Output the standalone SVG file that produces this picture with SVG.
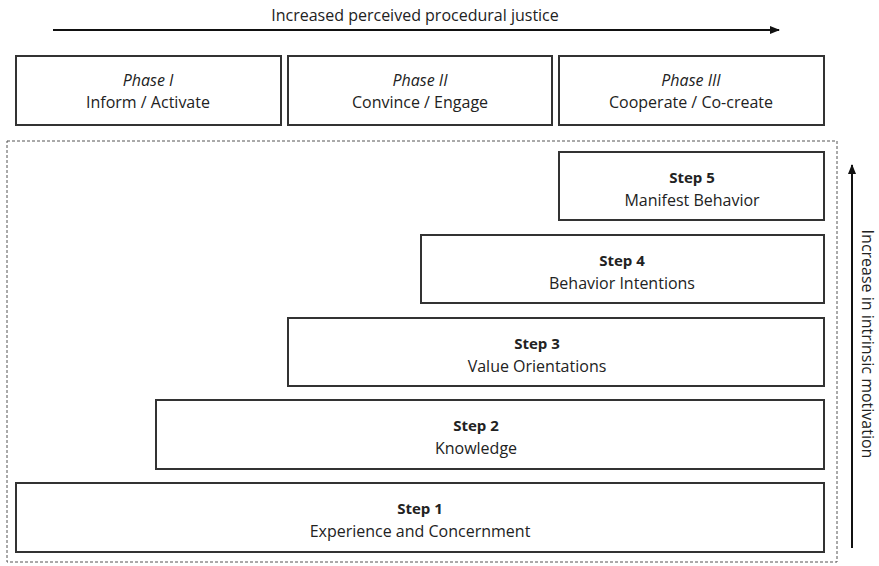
<svg xmlns="http://www.w3.org/2000/svg" width="879" height="566" viewBox="0 0 879 566">
<defs>
<marker id="ah" markerWidth="10" markerHeight="8" refX="9" refY="4" orient="auto" markerUnits="userSpaceOnUse">
<path d="M0,0 L10,4 L0,8 Z" fill="#111"/>
</marker>
<style>
.box{fill:#fff;stroke:#333;stroke-width:2}
.t{font-family:"Open Sans","Liberation Sans",sans-serif;font-size:16px;fill:#222;text-anchor:middle}
.i{font-style:italic}
.b{font-weight:bold;font-size:15px}
.ln{stroke:#111;stroke-width:2;fill:none}
</style>
</defs>
<rect width="879" height="566" fill="#fff"/>
<g id="connectors">
<line class="ln" x1="53" y1="30" x2="779" y2="30" marker-end="url(#ah)"/>
<line class="ln" x1="852" y1="548" x2="852" y2="165" marker-end="url(#ah)"/>
<rect x="7" y="141" width="830" height="421" fill="none" stroke="#555" stroke-width="1" stroke-dasharray="3,2"/>
</g>
<text class="t" x="415" y="21">Increased perceived procedural justice</text>
<text class="t" transform="translate(862,344) rotate(90)">Increase in intrinsic motivation</text>
<g id="phase1"><rect class="box" x="16" y="56" width="265" height="69"/><text class="t i" x="148" y="86">Phase I</text><text class="t" x="148" y="108">Inform / Activate</text></g>
<g id="phase2"><rect class="box" x="288" y="56" width="264" height="69"/><text class="t i" x="420" y="86">Phase II</text><text class="t" x="420" y="108">Convince / Engage</text></g>
<g id="phase3"><rect class="box" x="559" y="56" width="265" height="69"/><text class="t i" x="691" y="86">Phase III</text><text class="t" x="691" y="108">Cooperate / Co-create</text></g>
<g id="step5"><rect class="box" x="559" y="152" width="265" height="68"/><text class="t b" x="692" y="183">Step 5</text><text class="t" x="692" y="206">Manifest Behavior</text></g>
<g id="step4"><rect class="box" x="421" y="235" width="403" height="68"/><text class="t b" x="622" y="266">Step 4</text><text class="t" x="622" y="289">Behavior Intentions</text></g>
<g id="step3"><rect class="box" x="288" y="318" width="536" height="68"/><text class="t b" x="537" y="349">Step 3</text><text class="t" x="537" y="372">Value Orientations</text></g>
<g id="step2"><rect class="box" x="156" y="400" width="668" height="69"/><text class="t b" x="476" y="431">Step 2</text><text class="t" x="476" y="454">Knowledge</text></g>
<g id="step1"><rect class="box" x="16" y="483" width="808" height="69"/><text class="t b" x="420" y="514">Step 1</text><text class="t" x="420" y="537">Experience and Concernment</text></g>
</svg>
